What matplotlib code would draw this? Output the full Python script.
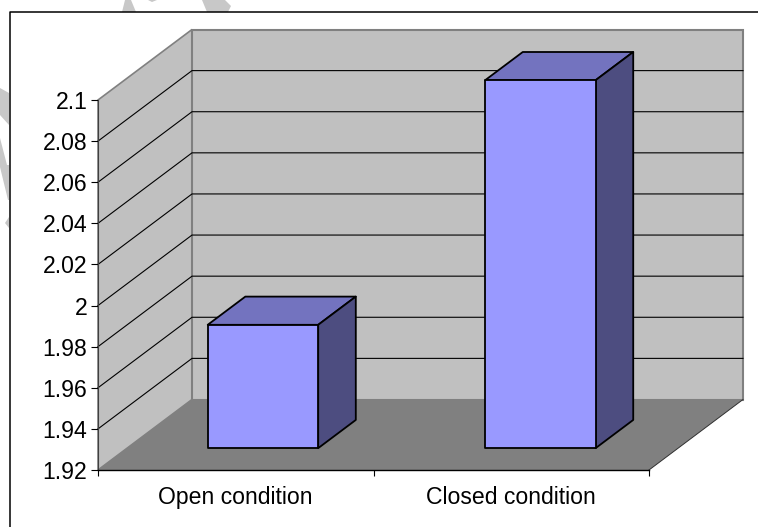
import matplotlib
matplotlib.use('Agg')
import matplotlib.pyplot as plt

plt.rcParams['font.family'] = ['Liberation Sans', 'DejaVu Sans']

categories = ['Open condition', 'Closed condition']
values = [1.98, 2.099]
y_ticks = [1.92, 1.94, 1.96, 1.98, 2.0, 2.02, 2.04, 2.06, 2.08, 2.1]
y_labels = ['1.92', '1.94', '1.96', '1.98', '2', '2.02', '2.04', '2.06', '2.08', '2.1']

# faded letter pieces behind the chart, in figure pixels from the top left
stamp_pieces = [
    [(122, 12), (125, 0), (131, 0), (136, 12)],
    [(148, 0), (157, 0), (152, 2)],
    [(202, 0), (225, 0), (231, 6), (228, 12), (207, 12)],
    [(0, 88), (9, 93), (9, 125), (0, 115)],
    [(0, 138), (7, 165), (9, 165), (9, 200), (8, 200), (0, 167)],
    [(5, 223), (9, 217), (9, 228)],
]

W, H = 758, 527
y_min, y_max = 1.92, 2.1
n = len(categories)

# shear applied per unit of depth, so the box keeps the real value scale
depth_x = 94 / 551 * n
depth_y = 70.5 / 370 * (y_max - y_min)
bar_width = 0.401
bar_front, bar_back = 0.31, 0.71
bar_start, bar_step = 0.493, 1.007


def project(x, v, d):
    return x + d * depth_x, v + d * depth_y


def face(ax, corners, **kw):
    pts = [project(*c) for c in corners]
    ax.fill([p[0] for p in pts], [p[1] for p in pts], clip_on=False, **kw)


fig = plt.figure(figsize=(W / 100, H / 100), dpi=100)
ax = fig.add_axes([98 / W, (H - 470) / H, 551 / W, 370 / H])

for piece in stamp_pieces:
    fig.patches.append(plt.Polygon([(px / W, 1 - py / H) for px, py in piece],
                                   closed=True, transform=fig.transFigure,
                                   facecolor='#C8C8C8', edgecolor='none'))

# side wall, back wall and floor
face(ax, [(0, y_min, 0), (0, y_min, 1), (0, y_max, 1), (0, y_max, 0)],
     facecolor='#C0C0C0', edgecolor='#808080', linewidth=1.2, zorder=1)
face(ax, [(0, y_min, 1), (n, y_min, 1), (n, y_max, 1), (0, y_max, 1)],
     facecolor='#C0C0C0', edgecolor='#808080', linewidth=1.5, zorder=1)
face(ax, [(0, y_min, 0), (n, y_min, 0), (n, y_min, 1), (0, y_min, 1)],
     facecolor='#808080', edgecolor='none', zorder=1.1)

# thin dark edge on the open side of the floor
p0 = project(n, y_min, 0)
p1 = project(n, y_min, 1)
ax.plot([p0[0], p1[0]], [p0[1], p1[1]], color='#303030', lw=0.7, clip_on=False, zorder=1.2)

for v in y_ticks[1:-1]:
    a = project(0, v, 0)
    b = project(0, v, 1)
    c = project(n, v, 1)
    ax.plot([a[0], b[0], c[0]], [a[1], b[1], c[1]], color='black', lw=0.8,
            clip_on=False, zorder=1.3, solid_joinstyle='miter')

for i, v in enumerate(values):
    centre = bar_start + i * bar_step
    x0 = centre - bar_width / 2
    x1 = centre + bar_width / 2
    edge = dict(edgecolor='black', linewidth=1.3, joinstyle='round', zorder=3)
    face(ax, [(x0, v, bar_front), (x1, v, bar_front), (x1, v, bar_back), (x0, v, bar_back)],
         facecolor='#7373BF', **edge)
    face(ax, [(x1, y_min, bar_front), (x1, y_min, bar_back), (x1, v, bar_back), (x1, v, bar_front)],
         facecolor='#4D4D80', **edge)
    face(ax, [(x0, y_min, bar_front), (x1, y_min, bar_front), (x1, v, bar_front), (x0, v, bar_front)],
         facecolor='#9999FF', **edge)

ax.set_xlim(0, n)
ax.set_ylim(y_min, y_max)
ax.patch.set_visible(False)
ax.spines['top'].set_visible(False)
ax.spines['right'].set_visible(False)
ax.spines['left'].set_color('#404040')
ax.spines['left'].set_linewidth(0.8)
ax.spines['bottom'].set_linewidth(1.0)

ax.set_yticks(y_ticks)
ax.set_yticklabels(y_labels)
ax.set_xticks(range(n + 1))
ax.set_xticklabels([])
ax.set_xticks([i + 0.5 for i in range(n)], minor=True)
ax.set_xticklabels(categories, minor=True)
ax.tick_params(axis='y', length=5, width=0.8, pad=2.6, labelsize=16.6)
ax.tick_params(axis='x', which='major', length=4.5, width=0.8)
ax.tick_params(axis='x', which='minor', length=0, pad=11.8, labelsize=16.6)

# outer frame, open at the right and bottom
frame = [(9.5, 527), (9.5, 12), (758, 12)]
fig.add_artist(plt.Line2D([p[0] / W for p in frame], [1 - p[1] / H for p in frame],
                          color='black', lw=1.1, transform=fig.transFigure))

fig.savefig('out.png', dpi=100)
